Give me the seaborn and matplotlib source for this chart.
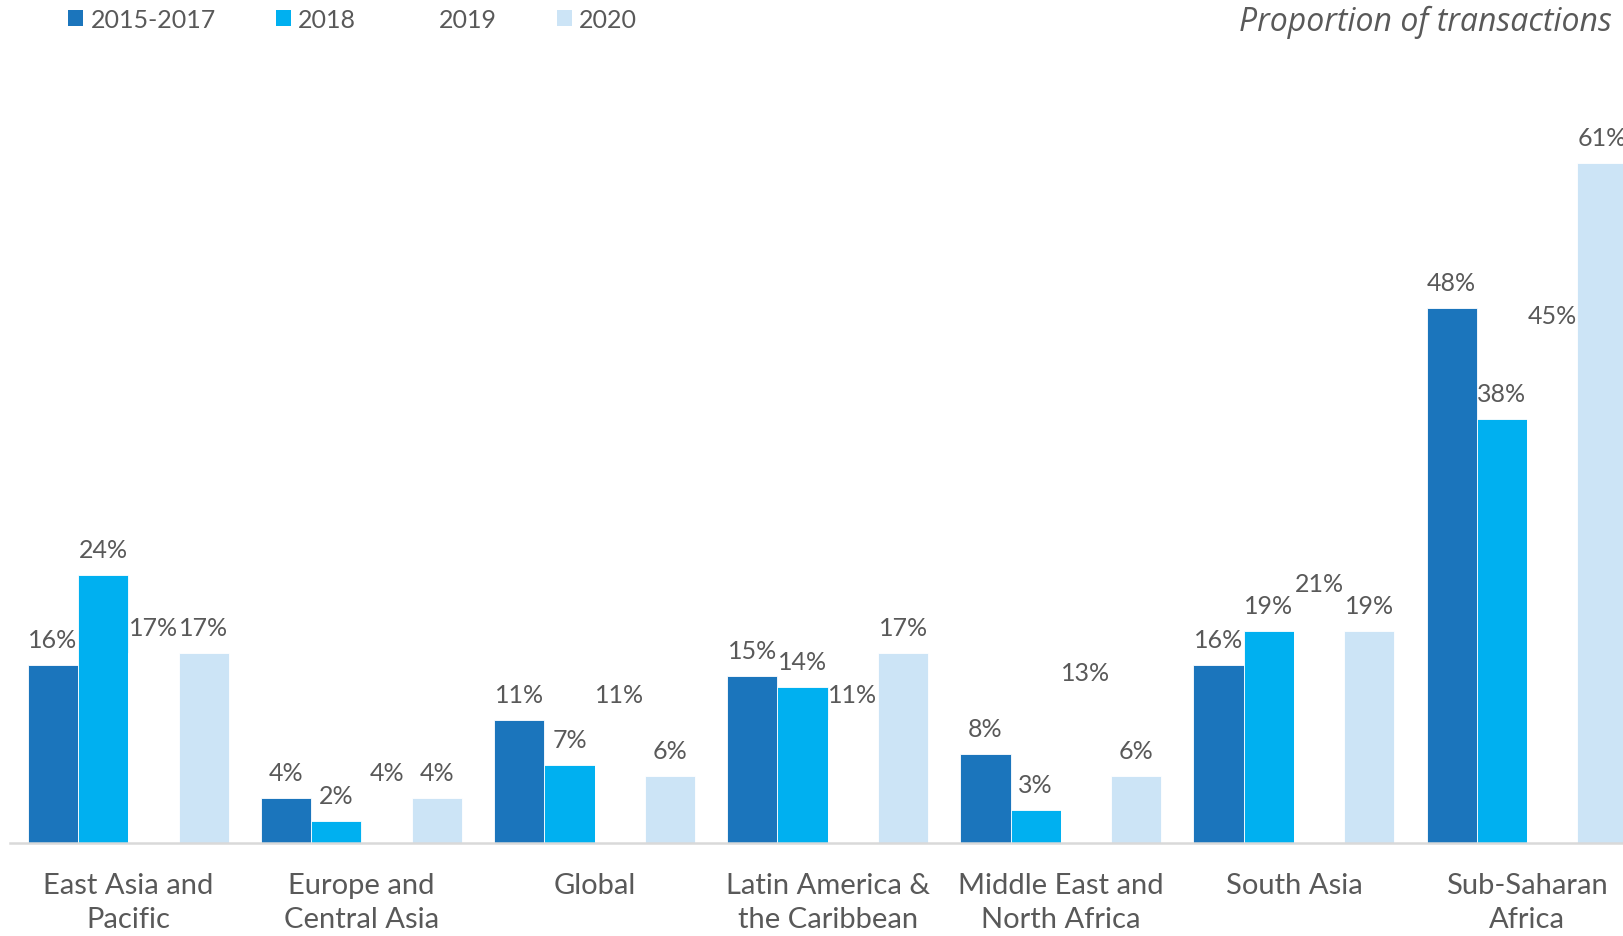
import matplotlib
matplotlib.use("Agg")
import matplotlib.pyplot as plt
import seaborn as sns
import pandas as pd
from matplotlib.patches import Patch

# Share of transactions by region and period (%)
regions = ["East Asia and\nPacific", "Europe and\nCentral Asia", "Global",
           "Latin America &\nthe Caribbean", "Middle East and\nNorth Africa",
           "South Asia", "Sub-Saharan\nAfrica"]
periods = ["2015-2017", "2018", "2019", "2020"]
v_2015_2017 = [16, 4, 11, 15, 8, 16, 48]
v_2018 = [24, 2, 7, 14, 3, 19, 38]
v_2019 = [17, 4, 11, 11, 13, 21, 45]
v_2020 = [17, 4, 6, 17, 6, 19, 61]
colors = ["#1B75BC", "#00B0F0", "#FFFFFF", "#CCE4F6"]

series = [v_2015_2017, v_2018, v_2019, v_2020]
df = pd.DataFrame(
    [(r, p, v) for p, vals in zip(periods, series) for r, v in zip(regions, vals)],
    columns=["region", "period", "value"],
)

sns.set_style("white")
plt.rcParams["font.family"] = ["Lato", "DejaVu Sans"]
text_color = "#595959"

W, H = 1624, 937
fig = plt.figure(figsize=(W / 100, H / 100), dpi=100)

# axes geometry in pixels
ax_left = 10
x0_px, pitch_px = 128.4, 233.1
base_px = 844
px_per_pct = 11.155
ymax = 70
ax = fig.add_axes([ax_left / W, (H - base_px) / H, 1 - ax_left / W,
                   ymax * px_per_pct / H])

sns.barplot(data=df, x="region", y="value", hue="period", order=regions,
            hue_order=periods, palette=colors, saturation=1, width=0.862, ax=ax,
            edgecolor="white", linewidth=0.6, legend=False, errorbar=None)

ax.set_xlim((ax_left - x0_px) / pitch_px, (W - x0_px) / pitch_px)
ax.set_ylim(0, ymax)

for c in ax.containers:
    ax.bar_label(c, fmt="{:.0f}%", padding=10, fontsize=18, color=text_color)

for s in ["top", "right", "left"]:
    ax.spines[s].set_visible(False)
ax.spines["bottom"].set_color("#D9D9D9")
ax.spines["bottom"].set_linewidth(1.8)
ax.set_yticks([])
ax.set_xlabel("")
ax.set_ylabel("")
ax.tick_params(axis="x", length=0, pad=21, labelsize=21, labelcolor=text_color)
for t in ax.get_xticklabels():
    t.set_linespacing(1.38)

handles = [Patch(facecolor=c, edgecolor="none") for c in colors]
fig.legend(handles, periods, loc="upper left", bbox_to_anchor=(58 / W, 1 + 1 / H),
           ncol=4, frameon=False, fontsize=18, labelcolor=text_color,
           handlelength=0.6, handleheight=0.6, handletextpad=0.3,
           columnspacing=2.4, borderaxespad=0)

fig.text(1612 / W, 1 - 22 / H, "Proportion of transactions", ha="right",
         va="center", fontsize=23, style="italic", color=text_color,
         family=["Open Sans", "DejaVu Sans"])

fig.savefig("out.png", dpi=100)
